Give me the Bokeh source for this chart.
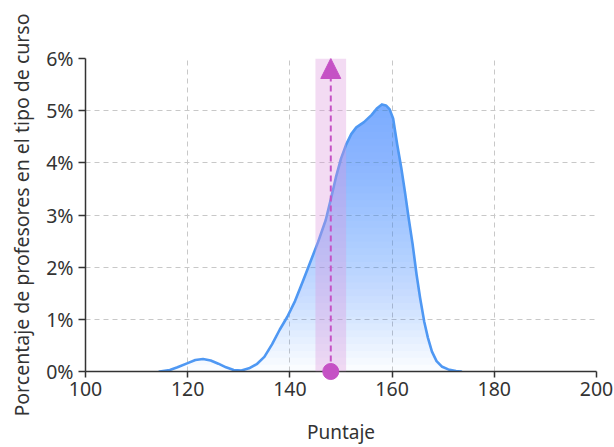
import numpy as np
from bokeh.plotting import figure
from bokeh.models import (Range1d, FixedTicker, BoxAnnotation, Arrow, NormalHead)
from bokeh.embed import file_html
from bokeh.resources import INLINE

# ---- data ----
score = [114.5, 116.5, 118, 120, 121.5, 123, 124.5, 126, 127.5, 129, 130.5,
         132, 133.5, 135, 136.5, 138, 139.5, 141, 142.5, 144, 145.5, 147,
         148, 149, 150, 151, 152, 153, 154.5, 156, 157, 158, 158.8, 159.5,
         160.2, 161, 161.8, 162.5, 163.3, 164, 164.8, 165.5, 166.3, 167,
         167.8, 168.7, 169.8, 171, 172.5, 173.5]
pct = [0.00, 0.03, 0.08, 0.16, 0.22, 0.24, 0.21, 0.15, 0.08, 0.03, 0.02,
       0.06, 0.14, 0.28, 0.52, 0.80, 1.05, 1.35, 1.72, 2.10, 2.48, 2.90,
       3.30, 3.72, 4.08, 4.35, 4.55, 4.68, 4.78, 4.92, 5.04, 5.12, 5.10, 5.03,
       4.85, 4.35, 3.90, 3.45, 2.90, 2.45, 1.85, 1.40, 0.95, 0.65,
       0.38, 0.20, 0.09, 0.04, 0.01, 0.00]
mean_score = 148
band_low, band_high = 145, 151
x_ticks = [100, 120, 140, 160, 180, 200]
y_ticks = [0, 1, 2, 3, 4, 5, 6]
y_tick_labels = ["0%", "1%", "2%", "3%", "4%", "5%", "6%"]
x_title = "Puntaje"
y_title = "Porcentaje de profesores en el tipo de curso"

FONT = "Noto Sans"
TXT = "#333333"
LINE = "#4f98f3"
PINK = "#c552c5"

p = figure(width=614, height=447, output_backend="svg", toolbar_location=None,
           x_range=Range1d(x_ticks[0], x_ticks[-1]), y_range=Range1d(y_ticks[0], y_ticks[-1]),
           min_border_left=85, min_border_right=18, min_border_top=58,
           min_border_bottom=72)
p.outline_line_color = None
p.background_fill_color = "white"

# gradient fill made of stacked translucent areas
x = np.array(score, dtype=float)
y = np.array(pct, dtype=float)
levels = np.linspace(0, max(pct), 40)
for lev in levels:
    p.varea(x=x, y1=np.minimum(y, lev), y2=y, fill_color=LINE, fill_alpha=0.027)

p.line(x, y, line_color=LINE, line_width=2.6, line_join="round", line_cap="round")

# highlighted band around the mean
band = BoxAnnotation(left=band_low, right=band_high, fill_color="#dd99dd",
                     fill_alpha=0.35, line_color=None)
p.add_layout(band)

arrow = Arrow(end=NormalHead(size=20, fill_color=PINK, line_color=PINK, line_width=1),
              x_start=mean_score, y_start=y_ticks[0], x_end=mean_score, y_end=y_ticks[-1],
              line_color=PINK, line_width=2, line_dash="6 4")
p.add_layout(arrow)

dot = p.scatter([mean_score], [y_ticks[0]], size=16, fill_color=PINK, line_color=PINK)
dot.level = "overlay"

# axes
p.xaxis.ticker = FixedTicker(ticks=x_ticks)
p.yaxis.ticker = FixedTicker(ticks=y_ticks)
p.yaxis.major_label_overrides = {t: l for t, l in zip(y_ticks, y_tick_labels)}
p.xaxis.axis_label = x_title
p.yaxis.axis_label = y_title
for ax in (p.xaxis, p.yaxis):
    ax.axis_line_color = "#333333"
    ax.axis_line_width = 1.5
    ax.major_tick_line_color = "#333333"
    ax.major_tick_line_width = 1.5
    ax.minor_tick_line_color = None
    ax.major_tick_in = 0
    ax.major_label_text_font = FONT
    ax.major_label_text_font_size = "19.5px"
    ax.major_label_text_color = TXT
    ax.axis_label_text_font = FONT
    ax.axis_label_text_font_size = "19px"
    ax.axis_label_text_font_style = "normal"
    ax.axis_label_text_color = TXT
p.yaxis.axis_label_text_font_size = "19.5px"
p.xaxis.major_tick_out = 6
p.yaxis.major_tick_out = 7
p.xaxis.major_label_standoff = 4
p.yaxis.major_label_standoff = 5
p.xaxis.axis_label_standoff = 20
p.yaxis.axis_label_standoff = 8

p.xgrid.ticker = FixedTicker(ticks=x_ticks)
p.ygrid.ticker = FixedTicker(ticks=y_ticks)
for g in (p.xgrid, p.ygrid):
    g.grid_line_color = "#c8c8c8"
    g.grid_line_dash = "5 4"
    g.grid_line_width = 1

open("out.html", "w").write(file_html(p, INLINE))
